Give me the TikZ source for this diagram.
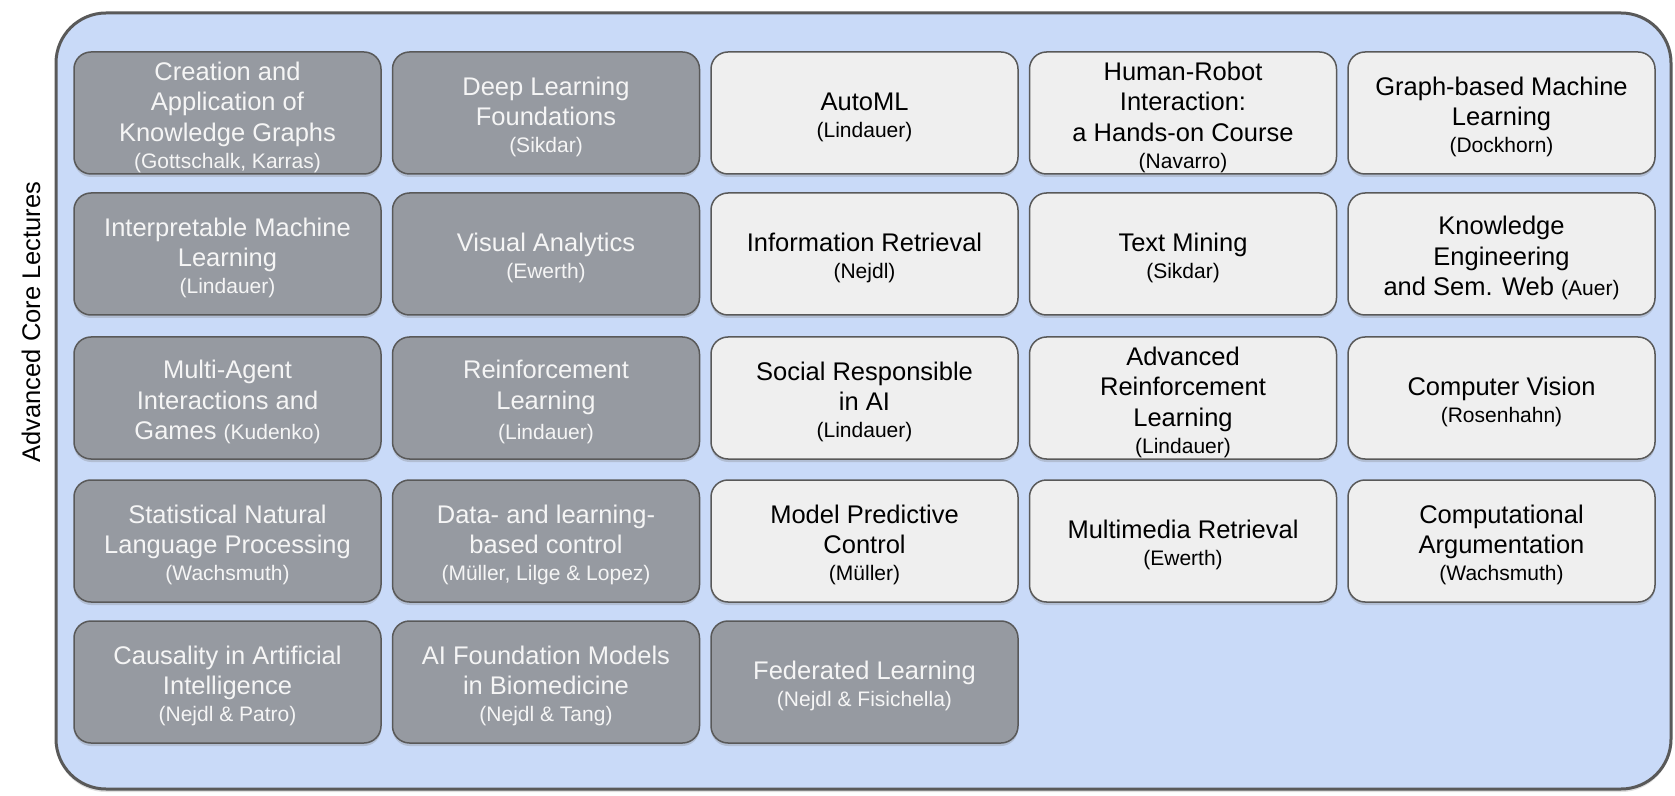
\documentclass[tikz,border=0pt]{standalone}
\usepackage{fontspec}
\setmainfont{Liberation Sans}
\usetikzlibrary{shadows}

\definecolor{panelblue}{HTML}{C9DAF8}
\definecolor{boxdark}{HTML}{969AA1}
\definecolor{boxlight}{HTML}{EFEFEF}
\definecolor{boxline}{HTML}{595959}
\definecolor{textlight}{HTML}{F5F5F5}

\newcommand{\pxunit}{0.5pt}
\newcommand{\titlefont}{\fontsize{12.75}{15.25}\selectfont}
\newcommand{\whofont}{\fontsize{10.5}{12.6}\selectfont}
\newcommand{\lecturer}[1]{\\[-1.75pt]{\whofont #1}}
\newcommand{\topstrut}{\rule{0pt}{13.2pt}}

\tikzstyle{lecture}=[draw=boxline,line width=0.75pt,rounded corners=8.5pt,minimum width=153.5pt,minimum height=61pt,inner xsep=2pt,inner ysep=0pt,align=center,font=\titlefont,drop shadow={shadow xshift=0pt,shadow yshift=-1.5pt,opacity=0.3}]
\tikzstyle{darklecture}=[lecture,fill=boxdark,text=textlight]
\tikzstyle{lightlecture}=[lecture,fill=boxlight,text=black]
\tikzstyle{panel}=[draw=boxline,line width=1.5pt,fill=panelblue,rounded corners=25pt]

\begin{document}
\begin{tikzpicture}[x=\pxunit, y=-\pxunit]
    \useasboundingbox[fill=white] (0,0) rectangle (1675,796);
    % First the blue panel and its side title
    \path[panel, drop shadow={shadow xshift=0pt,shadow yshift=-1.5pt,opacity=0.25}] (56,13) rectangle (1671,789);
    \node[rotate=90, font=\titlefont] (side) at (31,322) {Advanced Core Lectures};
    % Then the lectures, row by row
    \foreach \pos/\name/\kind/\txt in {
        {(227.5,113)/kg/darklecture/{Creation and\\Application of\\Knowledge Graphs\lecturer{(Gottschalk, Karras)}}},
        {(546,113)/dlf/darklecture/{Deep Learning\\Foundations\lecturer{(Sikdar)}}},
        {(864.5,113)/automl/lightlecture/{AutoML\lecturer{(Lindauer)}}},
        {(1183,113)/hri/lightlecture/{Human-Robot\\Interaction:\\a Hands-on Course\lecturer{(Navarro)}}},
        {(1501.5,113)/gml/lightlecture/{Graph-based Machine\\Learning\lecturer{(Dockhorn)}}},
        {(227.5,254)/iml/darklecture/{Interpretable Machine\\Learning\lecturer{(Lindauer)}}},
        {(546,254)/va/darklecture/{Visual Analytics\lecturer{(Ewerth)}}},
        {(864.5,254)/ir/lightlecture/{Information Retrieval\lecturer{(Nejdl)}}},
        {(1183,254)/tm/lightlecture/{Text Mining\lecturer{(Sikdar)}}},
        {(1501.5,254)/kesw/lightlecture/{Knowledge\\Engineering\\and Sem. Web {\whofont(Auer)}}},
        {(227.5,398)/mai/darklecture/{Multi-Agent\\Interactions and\\Games {\whofont(Kudenko)}}},
        {(546,398)/rl/darklecture/{Reinforcement\\Learning\\{\whofont(Lindauer)}}},
        {(864.5,398)/sra/lightlecture/{Social Responsible\\in AI\lecturer{(Lindauer)}}},
        {(1183,398)/arl/lightlecture/{Advanced\\Reinforcement\\Learning\lecturer{(Lindauer)}}},
        {(1501.5,398)/cv/lightlecture/{Computer Vision\lecturer{(Rosenhahn)}}},
        {(227.5,541)/snlp/darklecture/{Statistical Natural\\Language Processing\lecturer{(Wachsmuth)}}},
        {(546,541)/dlc/darklecture/{Data- and learning-\\based control\lecturer{(Müller, Lilge \& Lopez)}}},
        {(864.5,541)/mpc/lightlecture/{Model Predictive\\Control\lecturer{(Müller)}}},
        {(1183,541)/mr/lightlecture/{Multimedia Retrieval\lecturer{(Ewerth)}}},
        {(1501.5,541)/ca/lightlecture/{Computational\\Argumentation\lecturer{(Wachsmuth)}}},
        {(227.5,682)/cai/darklecture/{Causality in Artificial\\Intelligence\lecturer{(Nejdl \& Patro)}}},
        {(546,682)/aifm/darklecture/{AI Foundation Models\\in Biomedicine\lecturer{(Nejdl \& Tang)}}},
        {(864.5,682)/fl/darklecture/{Federated Learning\lecturer{(Nejdl \& Fisichella)}}}}
        \node[\kind] (\name) at \pos {\topstrut\txt};
\end{tikzpicture}
\end{document}
